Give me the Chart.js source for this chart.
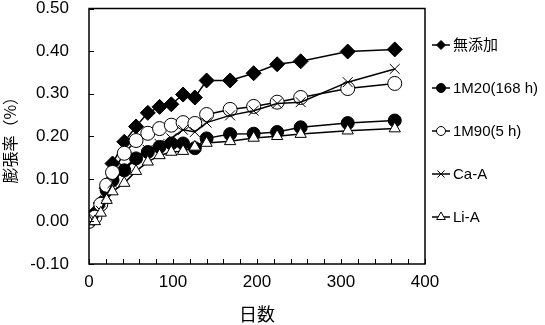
<!DOCTYPE html>
<html>
<head>
<meta charset="utf-8">
<script src="https://cdn.jsdelivr.net/npm/chart.js@4/dist/chart.umd.min.js"></script>
<style>
  html, body { margin: 0; padding: 0; background: #fff; }
  canvas { display: block; }
</style>
</head>
<body>
<canvas id="c" width="545" height="325"></canvas>
<script>
// ---- data ----
const days = [0, 7, 14, 21, 28, 42, 56, 70, 84, 98, 112, 126, 140, 168, 196, 224, 252, 308, 364];
const seriesNames = ['無添加', '1M20(168 h)', '1M90(5 h)', 'Ca-A', 'Li-A'];
const mutenka = [0, 0.020, 0.043, 0.078, 0.136, 0.187, 0.223, 0.255, 0.269, 0.275, 0.298, 0.291, 0.331, 0.331, 0.348, 0.369, 0.376, 0.399, 0.404];
const m20     = [0, 0.010, 0.040, 0.073, 0.097, 0.120, 0.148, 0.163, 0.175, 0.183, 0.183, 0.172, 0.195, 0.205, 0.206, 0.210, 0.221, 0.231, 0.237];
const m90     = [0, 0.010, 0.040, 0.085, 0.115, 0.160, 0.190, 0.207, 0.218, 0.226, 0.232, 0.230, 0.251, 0.263, 0.270, 0.280, 0.291, 0.312, 0.324];
const caA     = [0, 0.005, 0.025, 0.060, 0.090, 0.125, 0.150, 0.168, 0.182, 0.195, 0.215, 0.210, 0.232, 0.249, 0.260, 0.277, 0.280, 0.327, 0.358];
const liA     = [0, 0.000, 0.020, 0.050, 0.070, 0.090, 0.118, 0.140, 0.155, 0.163, 0.165, 0.175, 0.184, 0.188, 0.196, 0.200, 0.205, 0.213, 0.218];
const yTicks = [-0.10, 0.00, 0.10, 0.20, 0.30, 0.40, 0.50];
const xMinorTicks = [0, 20, 40, 60, 80, 100, 120, 140, 160, 180, 200, 220, 240, 260, 280, 300, 320, 340, 360, 380, 400];
const xTickLabels = [0, 100, 200, 300, 400];
const yTitle = '膨張率（%）';
const xTitle = '日数';

const FONT = "'Liberation Sans', Arial, 'Noto Sans CJK JP', sans-serif";
const CJK = "'Noto Sans CJK JP', sans-serif";

const styles = [
  { pointStyle: 'rectRot', radius: 7.5, fill: '#000', lr: 4.5 },
  { pointStyle: 'circle', radius: 6.5, fill: '#000', lr: 4.5 },
  { pointStyle: 'circle', radius: 7, fill: '#fff', lr: 4.5 },
  { pointStyle: 'crossRot', radius: 7, fill: '#fff', lr: 5 },
  { pointStyle: 'triangle', radius: 6.5, fill: '#fff', lr: 5 }
];
const allSeries = [mutenka, m20, m90, caA, liA];

const datasets = allSeries.map((arr, i) => ({
  label: seriesNames[i],
  data: days.map((d, j) => ({ x: d, y: arr[j] })),
  borderColor: '#000',
  borderWidth: 1.5,
  pointStyle: styles[i].pointStyle,
  pointRadius: styles[i].radius,
  pointHoverRadius: styles[i].radius,
  pointBackgroundColor: styles[i].fill,
  pointBorderColor: '#000',
  pointBorderWidth: 1,
  fill: false,
  tension: 0,
  order: 10 - i
}));

const framePlugin = {
  id: 'boxFrame',
  afterDraw(chart) {
    const { ctx, chartArea: a, scales } = chart;
    ctx.save();
    ctx.strokeStyle = '#000';
    ctx.lineWidth = 1;
    ctx.beginPath();
    yTicks.forEach(v => {
      const y = Math.round(scales.y.getPixelForValue(v)) + 0.5;
      ctx.moveTo(a.left, y);
      ctx.lineTo(a.left + 5, y);
    });
    xMinorTicks.forEach(v => {
      const x = Math.round(scales.x.getPixelForValue(v)) + 0.5;
      ctx.moveTo(x, a.bottom);
      ctx.lineTo(x, a.bottom - 5);
    });
    ctx.stroke();
    ctx.lineWidth = 1.5;
    ctx.strokeRect(a.left, a.top, a.right - a.left, a.bottom - a.top);
    ctx.restore();
  }
};

const legendPlugin = {
  id: 'customLegend',
  afterDraw(chart) {
    const { ctx } = chart;
    ctx.save();
    chart.data.datasets.forEach((ds, i) => {
      const y = 45 + i * 43;
      const x0 = 432, x1 = 450;
      ctx.strokeStyle = '#000';
      ctx.lineWidth = 1.5;
      ctx.beginPath();
      ctx.moveTo(x0, y);
      ctx.lineTo(x1, y);
      ctx.stroke();
      ctx.fillStyle = styles[i].fill;
      ctx.strokeStyle = '#000';
      ctx.lineWidth = 1;
      Chart.helpers.drawPoint(ctx, { pointStyle: styles[i].pointStyle, radius: styles[i].lr, rotation: 0, borderWidth: 1 }, (x0 + x1) / 2, y);
      ctx.fillStyle = '#000';
      ctx.font = '15px ' + FONT;
      ctx.textBaseline = 'middle';
      ctx.textAlign = 'left';
      ctx.fillText(ds.label, 453, y + 1);
    });
    ctx.restore();
  }
};

new Chart(document.getElementById('c'), {
  type: 'line',
  data: { datasets },
  plugins: [framePlugin, legendPlugin],
  options: {
    responsive: false,
    animation: false,
    events: [],
    layout: { padding: { left: 0, right: 120, top: 8, bottom: 0 } },
    plugins: { legend: { display: false }, tooltip: { enabled: false } },
    scales: {
      x: {
        type: 'linear',
        min: 0,
        max: 400,
        afterFit(scale) { scale.height = 61; scale.paddingLeft = 0; scale.paddingRight = 0; },
        afterBuildTicks(scale) {
          scale.ticks = xTickLabels.map(v => ({ value: v }));
        },
        ticks: {
          autoSkip: false,
          maxRotation: 0,
          padding: 8,
          color: '#000',
          font: { family: FONT, size: 17 },
          callback: (v) => String(v)
        },
        grid: { display: false, drawTicks: false },
        border: { display: false },
        title: {
          display: true,
          text: xTitle,
          color: '#000',
          font: { family: CJK, size: 18 },
          padding: { top: 0, bottom: 0 }
        }
      },
      y: {
        min: -0.1,
        max: 0.5,
        afterFit(scale) { scale.width = 89; scale.paddingTop = 0; scale.paddingBottom = 0; },
        afterBuildTicks(scale) {
          scale.ticks = yTicks.map(v => ({ value: v }));
        },
        ticks: {
          padding: 20,
          color: '#000',
          font: { family: FONT, size: 17 },
          callback: (v) => Number(v).toFixed(2)
        },
        grid: { display: false, drawTicks: false },
        border: { display: false },
        title: {
          display: true,
          text: yTitle,
          color: '#000',
          font: { family: CJK, size: 16 },
          padding: { top: 0, bottom: 0 }
        }
      }
    }
  }
});
</script>
</body>
</html>
